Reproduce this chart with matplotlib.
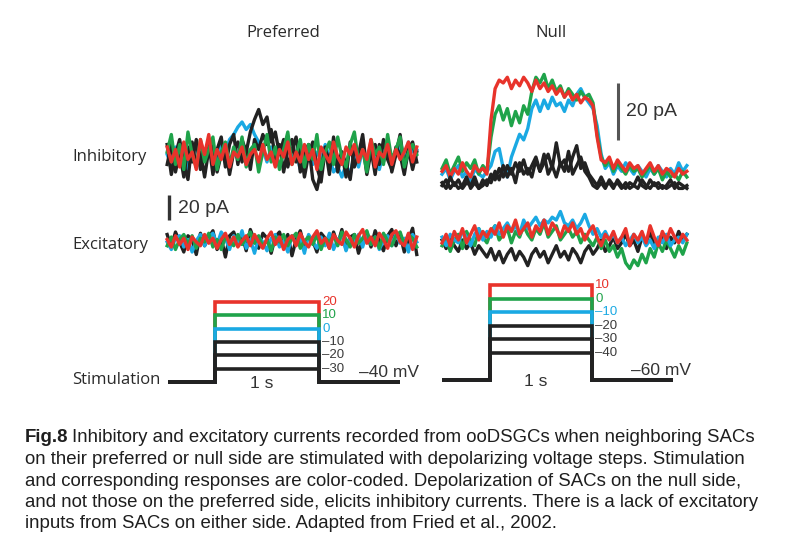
import numpy as np
import matplotlib
matplotlib.use("Agg")
import matplotlib.pyplot as plt

# colours used in the figure
RED = "#e8332b"
GREEN = "#1fa34a"
BLUE = "#1aa9e3"
BLACK = "#222222"

# --- recorded currents (pA), evenly spaced in time ---
# preferred side, inhibitory
pref_inh_red = [8, -4, 6, -8, 12, -2, 4, -10, 14, 2, 18, -6, 6, -2, 10, -8, 4, 0, 8, -6, 2, 6, -4, 10, -2,
                4, -8, 6, 0, 12, -6, 4, -4, 10, -2, 6, -10, 8, 2, -4, 12, 0, -6, 8, 2, 10, -4, 6, -2, 14,
                -8, 4, 0, 10, -6, 6, -2, 4, 12, -4, 8]
pref_inh_green = [4, 18, -6, 10, -10, 20, 2, -8, 14, -4, 6, 16, -10, 4, 12, -6, 8, -2, 16, -8, 6, 10, -12, 4,
                  18, -4, 8, -10, 6, 20, -6, 2, 14, -8, 10, -2, 18, -10, 4, 12, -6, 16, 0, -8, 10, 20, -4, 6,
                  -12, 14, 2, 8, -6, 18, -2, 6, 16, -8, 4, 10, 2]
pref_inh_blue = [2, -6, 8, -2, 6, -10, 4, 10, -4, 6, 0, 8, -6, 10, 4, 14, 18, 24, 28, 22, 26, 18, 12, 6, -4,
                 8, 2, -8, 6, 10, -2, 4, -10, 2, 8, -6, 4, -2, 10, 0, -12, -8, -16, -6, -14, 2, -8, 6, -4, 8,
                 0, -10, 4, 10, -6, 2, 8, -4, 12, 4, 6]
pref_inh_black1 = [-6, 10, -12, 4, -16, 8, -4, 14, -10, 2, 12, -14, 6, 16, -8, 10, 18, -6, 14, 4, 20, 30, 38,
                   26, 32, 12, 20, 2, 14, -8, 6, 16, -12, 4, 10, -18, -26, -10, 8, -14, 16, -6, 4, -16, 12,
                   -8, 2, 18, -10, 6, -14, 10, -4, 14, -12, 2, 18, -8, 6, -10, 4]
pref_inh_black2 = [10, -14, 2, 14, -6, -18, 12, -8, 4, -16, 6, 10, -12, 2, 8, -14, 4, 12, -4, 8, -10, 14, 6,
                   18, 10, 22, -2, 10, -12, 6, 14, -4, 8, -16, 2, 12, -8, -20, 6, -2, 10, -12, 4, -6, -18, 8,
                   -2, 12, -14, 4, 10, -6, 14, -2, -10, 8, 2, -14, 6, 12, -4]

# preferred side, excitatory
pref_exc_red = [2, -4, 5, -2, 3, -6, 4, 0, -3, 6, -1, 3, -5, 2, 7, -2, 4, -4, 1, 5, -3, 6, 0, -5, 3, 8, -2,
                4, -6, 2, 5, -3, 7, 0, -4, 4, 9, -1, 3, -5, 6, 1, -2, 8, 3, -4, 5, 10, -1, 4, -3, 7, 2, -5,
                6, 9, 0, -3, 7, -6, 4]
pref_exc_green = [-3, 4, -6, 2, 6, -2, 5, -5, 3, 0, 7, -4, 2, -6, 4, 1, -3, 6, -2, 3, 8, -1, 5, -4, 2, -7,
                  4, 0, 6, -3, 3, 7, -5, 1, 4, -2, 6, -6, 3, 0, 5, -3, 8, 2, -4, 6, -1, 3, 9, -2, 4, -5, 7,
                  1, -3, 5, 8, -2, 6, 3, -4]
pref_exc_blue = [0, -6, 3, 5, -4, 2, -8, 1, 6, -3, 4, 7, -2, 8, 3, -6, 5, -1, 9, -5, 2, -9, 4, 0, -7, 3, 6,
                 -4, 1, -8, 5, -2, 3, -9, 6, 0, -5, 4, -3, 7, -6, 2, 5, -7, 3, 0, 6, -4, 8, -2, 4, -6, 1, 5,
                 -3, 7, -1, 3, -8, 6, 0]
pref_exc_black = [6, -4, 8, 0, -8, 5, 2, -10, 7, -3, 4, 9, -6, 3, -12, 5, 8, -2, 6, -7, 10, 1, -5, 7, 3, -9,
                  4, 8, -3, 6, -11, 2, 9, -4, 5, 1, -8, 7, 3, -5, 8, -2, 10, -6, 4, 6, -9, 2, 7, -4, 9, 1,
                  -7, 5, 10, -3, 6, -8, 2, 11, -10]

# null side, inhibitory
null_inh_red = [2, 4, 0, 3, 1, 5, 2, 0, 4, 2, 3, 1,
                20, 31, 34,
                33, 35, 31, 34, 32, 35, 33, 30, 34, 31, 33, 30,
                32, 29, 31, 28, 30, 27, 29, 26, 28,
                27, 25, 14, 6,
                5, 7, 3, 6, 4, 2, 5, 3, 4, 1, 3, 5, 2, 4, 1, 3, 2, 0, 3, 1, 2]
null_inh_green = [3, 6, 1, 4, 7, 2, 5, 3, 6, 1, 4, 2,
                  14, 22, 25,
                  20, 24, 18, 23, 19, 25, 22,
                  30, 35,
                  33, 36, 31, 34, 30, 32, 28, 31, 29, 27, 30, 28,
                  29, 26, 15, 7,
                  4, 6, 2, 5, 3, 1, 4, 2, 3, 0, 2, 4, 1, 3, -1, 2, 0, 1, -1, 2, 0]
null_inh_blue = [1, 3, -1, 2, 4, 0, 2, -2, 3, 1, 0, 2,
                 4, 9, 10, 3, 0, 7, 11, 15, 13, 17, 24, 27,
                 23, 27, 24, 28, 25, 26, 23, 27, 25, 29, 31, 28,
                 26, 24, 18, 8,
                 3, 5, 1, 4, 2, 5, 3, 1, 4, 2, 0, 3, 1, 4, 2, 0, 3, 1, 5, 2, 4]
null_inh_black1 = [-2, -4, 0, -3, -1, -4, -2, -3, 0, -4, -1, -3,
                   1, -1, 3, 0, 4, 1, 5, 2, 6, 1, 4, 7, 2, 5, 8, 3, 12, 4, 6, 2, 7, 11, 3, 5, 1,
                   -1, -3, 0, -3, -2, -4, -1, -3, -4, -2, -3, 0, -3, -4, -1, -3, -2, -4, -3, -1, -4, -2,
                   -3, -4]
null_inh_black2 = [-3, -1, -4, -2, -4, -3, 0, -4, -2, -4, -3, -1,
                   -2, 2, -1, 4, 0, 3, -2, 5, 1, 3, 0, 6, 2, 8, 1, 4, 0, 5, 2, 9, 1, 4, 7, 2, 0,
                   -3, -4, -2, -4, -1, -3, -2, -4, -2, -4, -3, -4, -1, -3, -4, -2, -4, -3, -4, -3, -2, -4,
                   -4, -3]

# null side, excitatory
null_exc_red = [-1, 2, -2, 3, 0, 4, -1, 2, 5, 0, 3, 1, 4, 2, 6, 1, 5, 3, 7, 2, 4, 6, 1, 5, 3, 7, 2, 6, 4,
                1, 5, 3, 6, 2, 4, 0, 3, 5, 1, -2, 2, 0, 3, -1, 1, 4, -2, 2, 0, 3, -1, 5, 1, -2, 3, 0, 4, 1,
                -1, 2, 0]
null_exc_green = [-2, 1, -4, 0, 2, -3, 3, 0, -2, 4, 1, -1, 3, 5, 0, 2, 4, -1, 3, 1, 5, 2, 0, 4, 2, 6, 1, 3,
                  5, 0, 2, 4, 1, 3, -1, 2, 0, -2, 1, -3, 0, -4, -2, -6, -3, -8, -10, -7, -9, -5, -8, -3,
                  -6, -1, -4, 0, -3, -6, -2, -5, -1]
null_exc_blue = [1, -2, 2, 0, -1, 3, 1, -2, 2, 4, 0, 3, 1, 5, 2, 4, 6, 3, 5, 2, 7, 4, 6, 8, 5, 7, 6, 8, 7,
                 10, 6, 5, 7, 4, 6, 9, 5, 2, 4, 1, 3, 0, 2, -1, 1, -2, 0, 2, -1, 1, -2, 0, -3, 1, -1, 2, -2,
                 0, 1, -1, 2]
null_exc_black = [0, -3, 1, -2, -4, 0, -3, -1, -5, -2, -4, -6, -3, -7, -4, -8, -5, -3, -7, -4, -6, -9, -5,
                  -3, -6, -4, -8, -5, -2, -6, -4, -7, -3, -5, -8, -4, -2, -5, -3, 0, -4, -2, 1, -3, -1, 2,
                  -2, 0, -4, 1, -1, 3, -2, 0, 2, -3, 1, -1, 3, 0, 2]

# --- voltage steps (mV) ---
pref_levels = [20, 10, 0, -10, -20, -30]
pref_hold = -40
null_levels = [10, 0, -10, -20, -30, -40]
null_hold = -60
step_colors = [RED, GREEN, BLUE, BLACK, BLACK, BLACK]
label_colors = [RED, GREEN, BLUE, "#3a3a3a", "#3a3a3a", "#3a3a3a"]

caption_lines = [
    "Inhibitory and excitatory currents recorded from ooDSGCs when neighboring SACs",
    "on their preferred or null side are stimulated with depolarizing voltage steps. Stimulation",
    "and corresponding responses are color-coded. Depolarization of SACs on the null side,",
    "and not those on the preferred side, elicits inhibitory currents. There is a lack of excitatory",
    "inputs from SACs on either side. Adapted from Fried et al., 2002.",
]

W, H = 800, 555
fig = plt.figure(figsize=(W / 100, H / 100), dpi=100)
fig.patch.set_facecolor("white")


def panel(box, t_zero, px_per_s, v_py, px_per_unit, v_ref):
    # box in pixels (x0, x1, y0, y1) measured from the top-left corner
    x0, x1, y0, y1 = box
    ax = fig.add_axes([x0 / W, 1 - y1 / H, (x1 - x0) / W, (y1 - y0) / H])
    ax.set_xlim((x0 - t_zero) / px_per_s, (x1 - t_zero) / px_per_s)
    ax.set_ylim(v_ref + (v_py - y1) / px_per_unit, v_ref + (v_py - y0) / px_per_unit)
    ax.axis("off")
    return ax


def traces(ax, t0, t1, series, lw=2.4):
    for vals, col in series:
        t = np.linspace(t0, t1, len(vals))
        ax.plot(t, vals, color=col, lw=lw, solid_joinstyle="round")


def steps(ax, levels, hold, t0, t1):
    for lvl, col, lcol in zip(levels, step_colors, label_colors):
        ax.plot([t0, 0, 0, 1, 1, t1], [hold, hold, lvl, lvl, hold, hold], color=col, lw=2.6,
                solid_joinstyle="miter", solid_capstyle="butt")
        lab = str(lvl).replace("-", "\u2013")
        ax.text(1.03, lvl, lab, color=lcol, fontsize=9.5, family="Liberation Sans",
                ha="left", va="center")
    ax.text(0.45, hold - 1, "1 s", fontsize=12.5, family="Liberation Sans", color="#333333",
            ha="center", va="center")
    ax.text(1.38, hold + 7, str(hold).replace("-", "\u2013") + " mV", fontsize=12.5,
            family="Liberation Sans", color="#333333", ha="left", va="center")


# preferred column: t=0 at x=215 px, 104 px per second
ax_pi = panel((140, 430, 90, 200), 215, 104, 157, 1.25, 0)
traces(ax_pi, -0.46, 1.94, [(pref_inh_blue, BLUE), (pref_inh_black2, BLACK), (pref_inh_black1, BLACK),
                            (pref_inh_green, GREEN), (pref_inh_red, RED)])
ax_pe = panel((140, 430, 190, 275), 215, 104, 242, 1.25, 0)
traces(ax_pe, -0.46, 1.94, [(pref_exc_black, BLACK), (pref_exc_blue, BLUE), (pref_exc_green, GREEN),
                            (pref_exc_red, RED)])
ax_pe.plot([-0.44, -0.44], [17.5, 37.5], color="#333333", lw=2.4, solid_capstyle="butt")
ax_pe.text(-0.36, 27, "20 pA", fontsize=14, family="Liberation Sans", color="#333333",
           ha="left", va="center")
ax_ps = panel((140, 430, 280, 395), 215, 104, 382, 1.33, pref_hold)
steps(ax_ps, pref_levels, pref_hold, -0.45, 1.78)

# null column: t=0 at x=490 px, 102 px per second
ax_ni = panel((430, 700, 55, 200), 490, 102, 177, 2.85, 0)
traces(ax_ni, -0.47, 1.93, [(null_inh_blue, BLUE), (null_inh_green, GREEN), (null_inh_red, RED),
                            (null_inh_black2, BLACK), (null_inh_black1, BLACK)])
ax_ni.plot([1.255, 1.255], [13, 33], color="#555555", lw=2.2, solid_capstyle="butt")
ax_ni.text(1.33, 23, "20 pA", fontsize=14, family="Liberation Sans", color="#333333",
           ha="left", va="center")
ax_ne = panel((430, 700, 195, 285), 490, 102, 240, 2.85, 0)
traces(ax_ne, -0.47, 1.93, [(null_exc_black, BLACK), (null_exc_green, GREEN), (null_exc_blue, BLUE),
                            (null_exc_red, RED)])
ax_ns = panel((430, 700, 275, 395), 490, 102, 380, 1.35, null_hold)
steps(ax_ns, null_levels, null_hold, -0.47, 1.79)

# titles and row labels
lab_kw = dict(family="Open Sans", fontsize=12, color="#2a2a2a")
fig.text(283 / W, 1 - 33 / H, "Preferred", ha="center", va="center", **lab_kw)
fig.text(551 / W, 1 - 33 / H, "Null", ha="center", va="center", **lab_kw)
fig.text(72 / W, 1 - 157 / H, "Inhibitory", ha="left", va="center", **lab_kw)
fig.text(72 / W, 1 - 245 / H, "Excitatory", ha="left", va="center", **lab_kw)
fig.text(72 / W, 1 - 380 / H, "Stimulation", ha="left", va="center", **lab_kw)

# caption
cap_kw = dict(family="Liberation Sans", fontsize=13.4, color="#1e1e1e", va="center", ha="left")
bold = fig.text(25 / W, 1 - 438 / H, "Fig.8", fontweight="bold", **cap_kw)
renderer = fig.canvas.get_renderer()
bx = bold.get_window_extent(renderer).x1
fig.text((bx + 4) / W, 1 - 438 / H, caption_lines[0], **cap_kw)
for i, line in enumerate(caption_lines[1:], start=1):
    fig.text(25 / W, 1 - (438 + 21.5 * i) / H, line, **cap_kw)

fig.savefig("out.png", dpi=100)
